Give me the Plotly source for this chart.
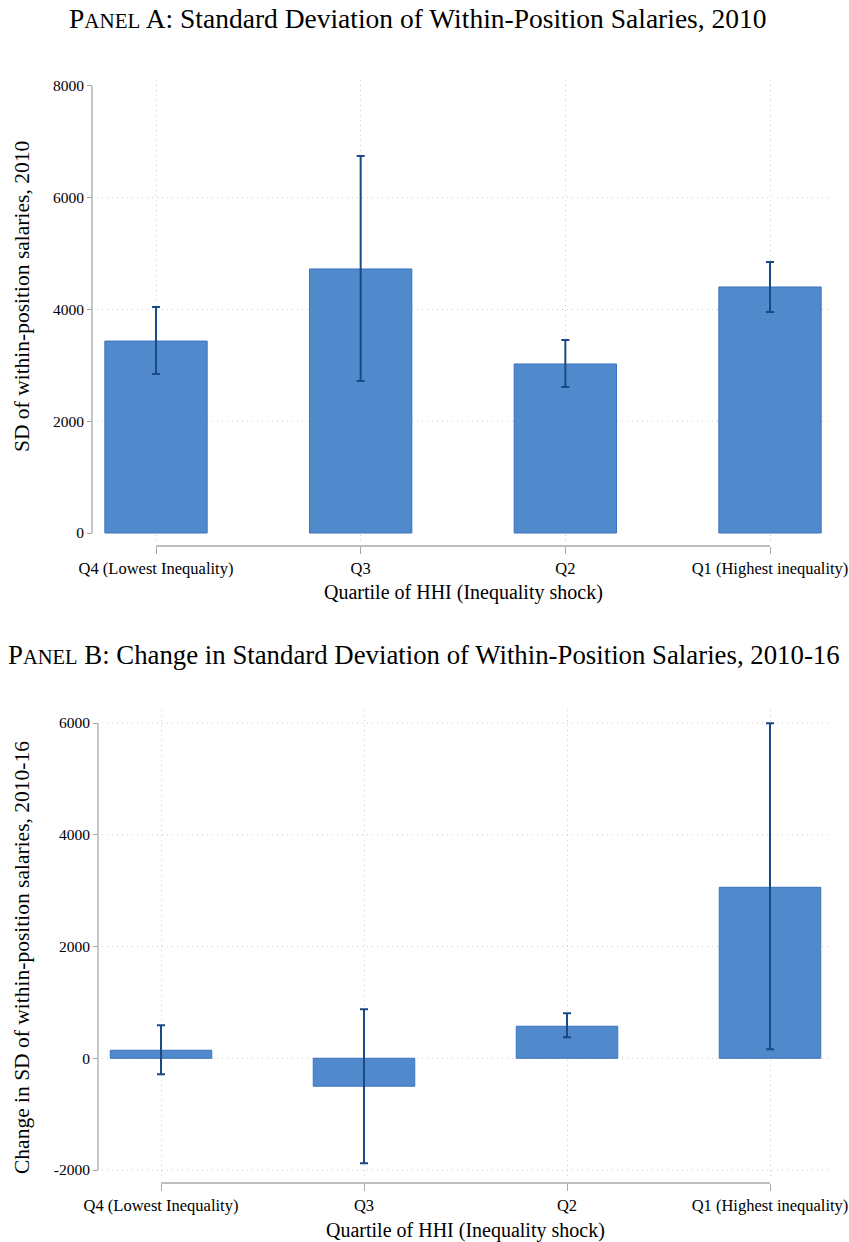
import plotly.graph_objects as go

# ---------------- data ----------------
categories = ["Q4 (Lowest Inequality)", "Q3", "Q2", "Q1 (Highest inequality)"]
a_values = [3435, 4725, 3025, 4403]
a_lower = [2846, 2720, 2613, 3955]
a_upper = [4045, 6747, 3454, 4850]
b_values = [143, -500, 573, 3060]
b_lower = [-286, -1879, 376, 161]
b_upper = [590, 877, 805, 5995]
a_ticks = [0, 2000, 4000, 6000, 8000]
a_grid = [2000, 4000, 6000]
b_ticks = [-2000, 0, 2000, 4000, 6000]
b_grid = [-2000, 0, 2000, 4000, 6000]

W, H = 849, 1242
FONT = "Liberation Serif"
BAR = "#5189cd"
BAR_LINE = "#3b73be"
ERR = "#1a4a85"
AXC = "#a8a8a8"
GRIDC = "#cccccc"
GRIDDASH = "1px,4px"

def px(x):
    return x / W

def py(y):
    return 1 - y / H

xpos = list(range(len(categories)))

fig = go.Figure()

def add_panel(vals, lo, hi, xa, ya):
    fig.add_trace(go.Bar(
        x=xpos, y=vals, width=0.5, xaxis=xa, yaxis=ya,
        marker=dict(color=BAR, line=dict(color=BAR_LINE, width=1)),
        error_y=dict(type="data", symmetric=False,
                     array=[h - v for h, v in zip(hi, vals)],
                     arrayminus=[v - l for v, l in zip(vals, lo)],
                     color=ERR, thickness=2, width=4),
        showlegend=False, hoverinfo="skip"))

add_panel(a_values, a_lower, a_upper, "x", "y")
add_panel(b_values, b_lower, b_upper, "x2", "y2")

xtickfont = dict(family=FONT, size=16.5, color="black")
ytickfont = dict(family=FONT, size=15.5, color="black")

common_x = dict(tickmode="array", tickvals=xpos, ticktext=categories,
                showline=False, zeroline=False, showgrid=True,
                gridcolor=GRIDC, griddash=GRIDDASH, gridwidth=1,
                ticks="outside", ticklen=7, tickcolor=AXC, tickwidth=1.3,
                tickfont=xtickfont, anchor="free", automargin=False)
common_y = dict(showline=False, zeroline=False, showgrid=False,
                ticks="outside", ticklen=5, tickcolor=AXC, tickwidth=1.3,
                tickfont=ytickfont, anchor="free", tickmode="array",
                automargin=False)

fig.update_layout(
    xaxis=dict(common_x, domain=[px(97), px(832)],
               range=[(97 - 156) / 204.67, (832 - 156) / 204.67],
               position=py(546)),
    yaxis=dict(common_y, domain=[py(541), py(80)],
               range=[-143, 8107], tickvals=a_ticks,
               ticktext=[str(t) for t in a_ticks], position=px(92)),
    xaxis2=dict(common_x, domain=[px(102), px(832)],
                range=[(102 - 161) / 203.0, (832 - 161) / 203.0],
                position=py(1183)),
    yaxis2=dict(common_y, domain=[py(1177), py(710)],
                range=[-2125, 6233], tickvals=b_ticks,
                ticktext=[str(t) for t in b_ticks], position=px(98)),
)

shapes = []
for g in a_grid:
    shapes.append(dict(type="line", xref="x domain", yref="y", x0=0, x1=1,
                       y0=g, y1=g, line=dict(color=GRIDC, width=1, dash=GRIDDASH),
                       layer="below"))
for g in b_grid:
    shapes.append(dict(type="line", xref="x2 domain", yref="y2", x0=0, x1=1,
                       y0=g, y1=g, line=dict(color=GRIDC, width=1, dash=GRIDDASH),
                       layer="below"))
# axis lines (Stata style: span only the ticked range)
shapes.append(dict(type="line", xref="paper", yref="y", x0=px(92), x1=px(92),
                   y0=a_ticks[0], y1=a_ticks[-1], line=dict(color=AXC, width=1.3)))
shapes.append(dict(type="line", xref="x", yref="paper", x0=xpos[0], x1=xpos[-1],
                   y0=py(546), y1=py(546), line=dict(color=AXC, width=1.3)))
shapes.append(dict(type="line", xref="paper", yref="y2", x0=px(98), x1=px(98),
                   y0=b_ticks[0], y1=b_ticks[-1], line=dict(color=AXC, width=1.3)))
shapes.append(dict(type="line", xref="x2", yref="paper", x0=xpos[0], x1=xpos[-1],
                   y0=py(1183), y1=py(1183), line=dict(color=AXC, width=1.3)))

def ann(text, x, y, size, angle=0):
    return dict(text=text, x=px(x), y=py(y), xref="paper", yref="paper",
                showarrow=False, xanchor="center", yanchor="middle",
                textangle=angle, font=dict(family=FONT, size=size, color="black"))

annotations = [
    ann("P<span style='font-size:21px'>ANEL</span> A: Standard Deviation of Within-Position Salaries, 2010", 418, 19, 27.5),
    ann("P<span style='font-size:20.5px'>ANEL</span> B: Change in Standard Deviation of Within-Position Salaries, 2010-16", 424, 655, 26.8),
    ann("SD of within-position salaries, 2010", 22, 297, 21.5, -90),
    ann("Change in SD of within-position salaries, 2010-16", 22, 958, 21.5, -90),
    ann("Quartile of HHI (Inequality shock)", 463, 592, 20),
    ann("Quartile of HHI (Inequality shock)", 465, 1230, 20),
]

fig.update_layout(
    width=W, height=H, margin=dict(l=0, r=0, t=0, b=0, autoexpand=False),
    paper_bgcolor="white", plot_bgcolor="white",
    shapes=shapes, annotations=annotations, bargap=0.5,
    font=dict(family=FONT, color="black"),
)

fig.write_html("out.html", config={"displayModeBar": False},
               post_script="document.body.style.margin='0';document.body.style.padding='0';")
